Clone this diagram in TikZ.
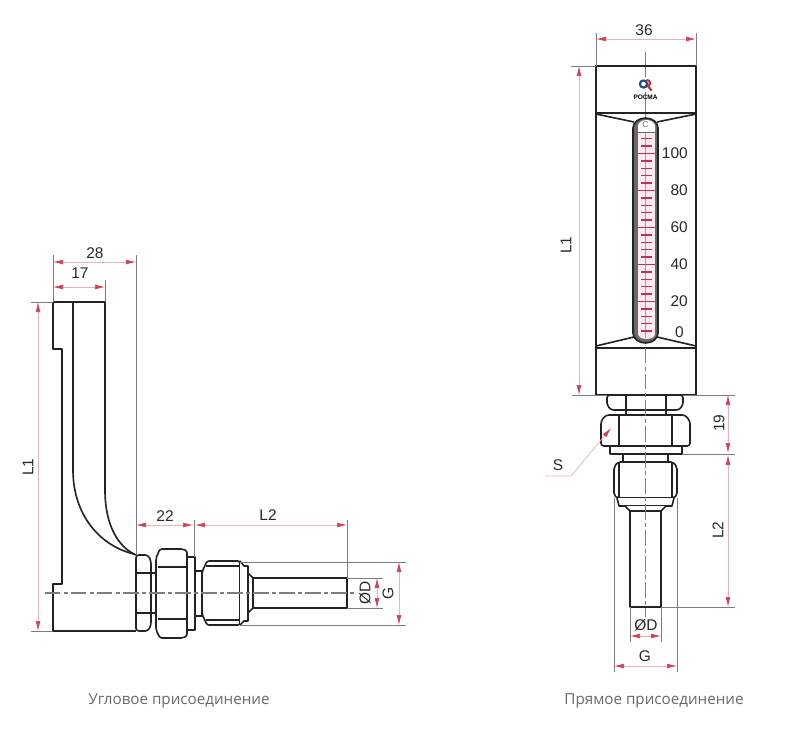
\documentclass[tikz,border=0pt]{standalone}
\usepackage{xcolor}
\usepackage{fontspec}
\setmainfont{Liberation Sans}
\newfontfamily\captionfont{Open Sans}
\usetikzlibrary{arrows.meta}
\definecolor{outlinedark}{RGB}{35,35,37}
\definecolor{extgray}{RGB}{125,125,125}
\definecolor{dimpink}{RGB}{232,178,188}
\definecolor{dimred}{RGB}{214,62,88}
\definecolor{tubegray}{RGB}{105,105,108}
\definecolor{scalepink}{RGB}{252,234,238}
\definecolor{scalered}{RGB}{196,48,84}
\definecolor{textdark}{RGB}{40,40,42}
\definecolor{captiongray}{RGB}{105,105,105}
\definecolor{logoblue}{RGB}{30,70,150}
\definecolor{logored}{RGB}{215,40,50}

\begin{document}
\begin{tikzpicture}[
    x=0.025cm, y=-0.025cm,
    part/.style={draw=outlinedark, line width=1.15pt, line join=round},
    hairline/.style={draw=outlinedark, line width=0.9pt},
    extline/.style={draw=extgray, line width=0.5pt},
    centerline/.style={draw=extgray, line width=0.8pt, dash pattern=on 11pt off 2.5pt on 2.5pt off 2.5pt},
    dimline/.style={draw=dimpink, line width=0.5pt,
        {Latex[length=2.5mm,width=1.2mm,color=dimred]}-{Latex[length=2.5mm,width=1.2mm,color=dimred]}},
    dimtext/.style={text=textdark, inner sep=0pt, font=\fontsize{11}{13}\selectfont},
    plate/.style={text=captiongray, inner sep=0pt, font=\captionfont\fontsize{10.8}{13}\selectfont}
]
    \useasboundingbox (0,0) rectangle (800,729);

    % Angle view: body
    \draw[extline] (136,255) -- (136,555);
    \draw[part] (53,302) -- (105,302) -- (105,490) .. controls (105,525) and (118,547) .. (136,555);
    \draw[part] (136,631) -- (53,631) -- (53,584) -- (62,584) -- (62,349) -- (53,349) -- (53,302);
    \draw[part] (73,302) -- (73,470) .. controls (73,515) and (100,546) .. (134,554);

    % Angle view: fitting
    \draw[part, fill=white, rounded corners=2pt] (136,631) -- (136,555) -- (148,555) -- (151,561) -- (151,625) -- (148,631) -- cycle;
    \draw[hairline] (136,573) -- (151,573) (136,613) -- (151,613);
    \draw[part, fill=white] (151,573) rectangle (156,613);
    \draw[part, fill=white, rounded corners=1.5pt] (156,558) -- (160,549) -- (183,549) -- (187,551) -- (187,636) -- (183,638) -- (160,638) -- (156,630) -- cycle;
    \draw[hairline] (158,567) -- (187,567) (158,619) -- (187,619);
    \draw[part, fill=white] (187,557) rectangle (195,630);
    \draw[part, fill=white] (195,571) rectangle (202,616);
    \draw[part, fill=white, rounded corners=1.5pt] (202,572) -- (207,561) -- (240,561) -- (240,625) -- (207,625) -- (202,614) -- cycle;
    \draw[hairline] (206,566) -- (240,566) (206,620) -- (240,620);
    \draw[part, fill=white] (240,561) -- (244,566) -- (248,566) -- (248,621) -- (244,621) -- (240,625);
    \draw[part, fill=white] (248,573) -- (253,578) -- (347,578) -- (347,608) -- (253,608) -- (248,613) -- cycle;
    \draw[part] (253,578) -- (253,608);
    \draw[centerline] (45,593) -- (355,593);

    % Angle view: dimensions
    \draw[extline] (53,255) -- (53,302);
    \draw[extline] (105,280) -- (105,302);
    \draw[extline] (31,302) -- (53,302);
    \draw[extline] (31,631) -- (53,631);
    \draw[extline] (194,520) -- (194,557);
    \draw[extline] (347,520) -- (347,578);
    \draw[extline] (240,562) -- (406,562);
    \draw[extline] (240,625) -- (406,625);
    \draw[extline] (347,578) -- (383,578);
    \draw[extline] (347,608) -- (383,608);
    \draw[dimline] (53,262) -- (136,262);
    \draw[dimline] (53,287) -- (105,287);
    \draw[dimline] (38,302) -- (38,631);
    \draw[dimline] (136,525) -- (193,525);
    \draw[dimline] (195,525) -- (347,525);
    \draw[dimline] (377,578) -- (377,608);
    \draw[dimline] (399,562) -- (399,625);
    \node[dimtext] (angleWidth) at (95,253) {28};
    \node[dimtext] (angleDepth) at (80,273) {17};
    \node[dimtext, rotate=90] (angleLength) at (28,467) {L1};
    \node[dimtext] (angleNut) at (165,516) {22};
    \node[dimtext] (angleStem) at (268,515) {L2};
    \node[dimtext, rotate=90] (angleBore) at (365,593) {ØD};
    \node[dimtext, rotate=90] (angleThread) at (388,593) {G};

    % Straight view: case
    \draw[extline, line width=0.7pt] (645.5,52) -- (645.5,120);
    \draw[part] (596,66) rectangle (696,395);
    \draw[part, line width=1.3pt] (596,113) -- (696,113);
    \draw[part, line width=1.6pt] (596,348) -- (696,348);
    \draw[part] (596,114) -- (634,122) (696,114) -- (657,122);
    \draw[part] (596,346) -- (634,337) (696,346) -- (657,337);

    % Straight view: tube and scale
    \draw[part, fill=tubegray] (633,128) arc[start angle=180, end angle=360, x radius=12.5, y radius=10] -- (658,333)
        arc[start angle=0, end angle=180, x radius=12.5, y radius=10] -- cycle;
    \fill[white] (638,132) -- (638,126) arc[start angle=180, end angle=360, x radius=8.5, y radius=6] -- (655,132) -- cycle;
    \fill[scalepink] (638,133) rectangle (655,334);
    \fill[scalepink] (638,334) arc[start angle=180, end angle=0, x radius=8.5, y radius=5] -- cycle;
    \draw[tubegray, line width=0.7pt] (638,132.5) -- (655,132.5);
    \draw[draw=scalered!60, line width=0.4pt] (645.5,133) -- (645.5,338);
    \foreach \tick in {-2,...,24} {
        \draw[draw=scalered, line width=1pt] (641,{153.5+7.4*\tick}) -- (652,{153.5+7.4*\tick});
    }
    \foreach \tick in {0,5,10,15,20} {
        \draw[draw=scalered, line width=1pt] (638,{153.5+7.4*\tick}) -- (655,{153.5+7.4*\tick});
    }
    \node[text=tubegray, inner sep=0pt, font=\fontsize{6}{6}\selectfont] (unit) at (645.5,125) {C};
    \foreach \val/\ypos in {100/153,80/190,60/227,40/264,20/301} {
        \node[dimtext, anchor=east] (scale\val) at (688,\ypos) {\val};
    }
    \node[dimtext, anchor=east] (scale0) at (684,332) {0};

    % Straight view: logo
    \fill[white] (636,77) rectangle (655,92);
    \draw[logoblue, line width=1.5pt] (643.5,84) circle[radius=3.6];
    \draw[logored, line width=1.5pt] (646.5,79.8) arc[start angle=-90, end angle=60, radius=3.6] -- (651.5,90.5);
    \node[inner sep=0pt, text=black, font=\bfseries\fontsize{4.6}{5}\selectfont] (brand) at (645.5,97) {РОСМА};

    % Straight view: fitting
    \draw[part, fill=white, rounded corners=2pt] (607,395) -- (683,395) -- (683,405) -- (679,410) -- (611,410) -- (607,405) -- cycle;
    \draw[hairline] (626,395) -- (626,410) (666,395) -- (666,410);
    \draw[part, fill=white] (626,410) rectangle (666,415);
    \draw[part, fill=white, rounded corners=2pt] (601,421) -- (606,415) -- (685,415) -- (690,421) -- (690,446) -- (601,446) -- cycle;
    \draw[hairline] (619,415) -- (619,446) (672,415) -- (672,446);
    \draw[part, fill=white] (610,446) rectangle (682,454);
    \draw[part, fill=white] (623,454) rectangle (668,462);
    \draw[part, fill=white, rounded corners=1.5pt] (614,467) -- (618,462) -- (673,462) -- (677,467) -- (677,495) -- (674,498) -- (617,498) -- (614,495) -- cycle;
    \draw[hairline] (619,463) -- (619,498) (672,463) -- (672,498);
    \draw[part, fill=white] (617,498) -- (619,506) -- (672,506) -- (674,498);
    \draw[part, fill=white] (625,506) -- (630,511) -- (630,607) -- (661,607) -- (661,511) -- (666,506);
    \draw[hairline] (630,511) -- (661,511);
    \draw[centerline] (645.5,348) -- (645.5,617);

    % Straight view: dimensions
    \draw[extline] (596,33) -- (596,66);
    \draw[extline] (696,33) -- (696,66);
    \draw[extline] (571,66) -- (596,66);
    \draw[extline] (572,395) -- (607,395);
    \draw[extline] (683,395) -- (735,395);
    \draw[extline] (682,454) -- (735,454);
    \draw[extline] (661,607) -- (735,607);
    \draw[extline] (630,607) -- (630,642);
    \draw[extline] (661,607) -- (661,642);
    \draw[extline] (614,498) -- (614,672);
    \draw[extline] (677,498) -- (677,672);
    \draw[dimline] (596,39) -- (696,39);
    \draw[dimline] (579,66) -- (579,395);
    \draw[dimline] (728,395) -- (728,453);
    \draw[dimline] (728,455) -- (728,607);
    \draw[dimline] (630,636) -- (661,636);
    \draw[dimline] (614,666) -- (677,666);
    \draw[draw=dimpink, line width=0.5pt, -{Latex[length=2.5mm,width=1.2mm,color=dimred]}] (545,476) -- (571,476) -- (611,428);
    \node[dimtext] (straightWidth) at (644,30) {36};
    \node[dimtext, rotate=90] (straightLength) at (566,245) {L1};
    \node[dimtext, rotate=90] (straightNut) at (719,423) {19};
    \node[dimtext, rotate=90] (straightStem) at (718,530) {L2};
    \node[dimtext] (straightKey) at (558,465) {S};
    \node[dimtext] (straightBore) at (646,625) {ØD};
    \node[dimtext] (straightThread) at (645,656) {G};

    % Captions
    \node[plate] (angleCaption) at (179,701) {Угловое присоединение};
    \node[plate] (straightCaption) at (654,701) {Прямое присоединение};
\end{tikzpicture}
\end{document}
